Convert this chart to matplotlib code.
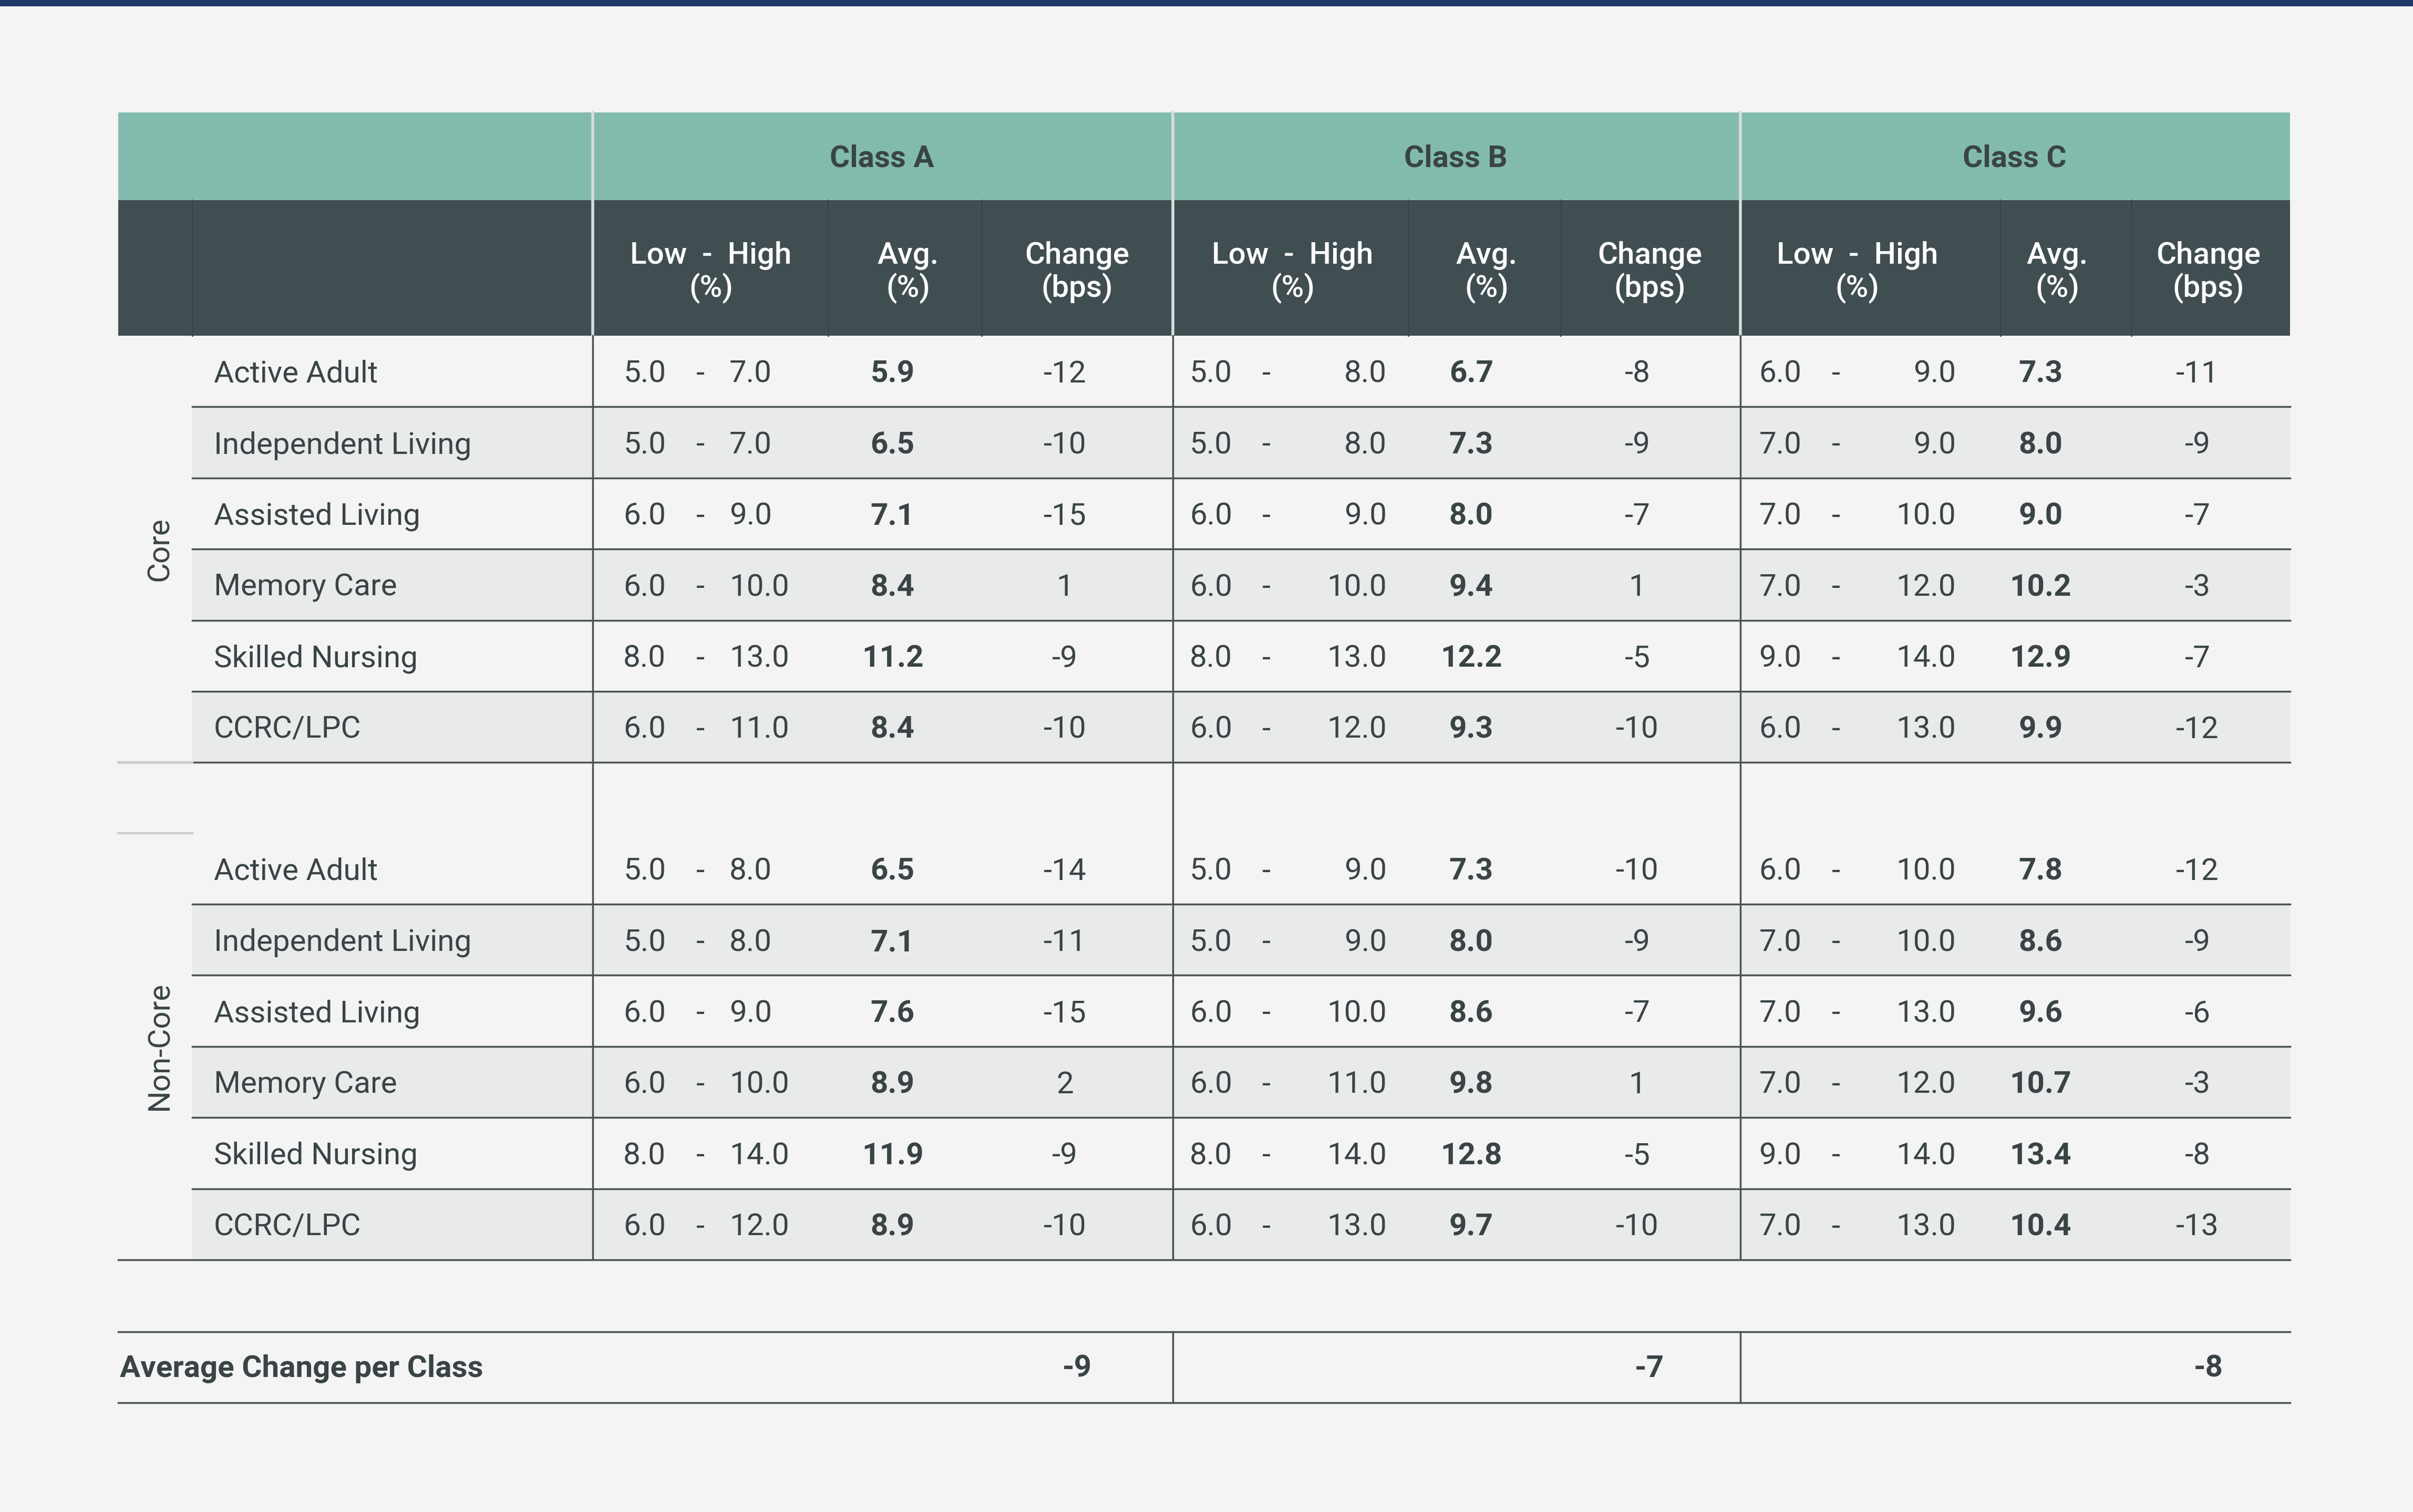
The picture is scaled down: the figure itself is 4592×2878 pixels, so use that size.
import matplotlib
matplotlib.use("Agg")
import matplotlib.pyplot as plt
from matplotlib.patches import Rectangle

classes = ["Class A", "Class B", "Class C"]
groups = ["Core", "Non-Core"]
property_types = ["Active Adult", "Independent Living", "Assisted Living", "Memory Care", "Skilled Nursing", "CCRC/LPC"]

core_low = [[5.0, 5.0, 6.0, 6.0, 8.0, 6.0], [5.0, 5.0, 6.0, 6.0, 8.0, 6.0], [6.0, 7.0, 7.0, 7.0, 9.0, 6.0]]
core_high = [[7.0, 7.0, 9.0, 10.0, 13.0, 11.0], [8.0, 8.0, 9.0, 10.0, 13.0, 12.0], [9.0, 9.0, 10.0, 12.0, 14.0, 13.0]]
core_avg = [[5.9, 6.5, 7.1, 8.4, 11.2, 8.4], [6.7, 7.3, 8.0, 9.4, 12.2, 9.3], [7.3, 8.0, 9.0, 10.2, 12.9, 9.9]]
core_chg = [[-12, -10, -15, 1, -9, -10], [-8, -9, -7, 1, -5, -10], [-11, -9, -7, -3, -7, -12]]

nc_low = [[5.0, 5.0, 6.0, 6.0, 8.0, 6.0], [5.0, 5.0, 6.0, 6.0, 8.0, 6.0], [6.0, 7.0, 7.0, 7.0, 9.0, 7.0]]
nc_high = [[8.0, 8.0, 9.0, 10.0, 14.0, 12.0], [9.0, 9.0, 10.0, 11.0, 14.0, 13.0], [10.0, 10.0, 13.0, 12.0, 14.0, 13.0]]
nc_avg = [[6.5, 7.1, 7.6, 8.9, 11.9, 8.9], [7.3, 8.0, 8.6, 9.8, 12.8, 9.7], [7.8, 8.6, 9.6, 10.7, 13.4, 10.4]]
nc_chg = [[-14, -11, -15, 2, -9, -10], [-10, -9, -7, 1, -5, -10], [-12, -9, -6, -3, -8, -13]]

avg_change = [-9, -7, -8]

W, H = 1568, 982
fig = plt.figure(figsize=(45.92, 28.78), dpi=100)
fig.patch.set_facecolor("#f3f4f3")
ax = fig.add_axes([0, 0, 1, 1])
ax.set_xlim(0, W); ax.set_ylim(H, 0); ax.axis("off")

FONT = "Roboto"
TXT = "#3a4447"
FS = 42
ax.add_patch(Rectangle((0, 0), W, 4, color="#1f3a68", lw=0))

# headers
ax.add_patch(Rectangle((77, 73), 1411, 57, color="#82bbad", lw=0))
ax.add_patch(Rectangle((77, 130), 1411, 88, color="#414e51", lw=0))
class_x = [573, 946, 1309]
for c, x in zip(classes, class_x):
    ax.text(x, 103, c, ha="center", va="center", fontsize=FS, fontweight="bold", color=TXT, family=FONT)
sub_x = [(462, 590, 700), (840, 966, 1072), (1207, 1337, 1435)]
for xs in sub_x:
    for x, t in zip(xs, ["Low  -  High\n(%)", "Avg.\n(%)", "Change\n(bps)"]):
        ax.text(x, 177, t, ha="center", va="center", fontsize=FS, fontweight="medium",
                color="white", family=FONT, linespacing=1.1)
for x in [385, 762, 1131]:
    ax.plot([x, x], [73, 218], color="#d8dcdb", lw=4)
for x in [125, 538, 638, 915, 1014, 1300, 1385]:
    ax.plot([x, x], [130, 218], color="#3a4648", lw=2)

rowh = 46.2
starts = {"Core": 218, "Non-Core": 541}
data = {"Core": (core_low, core_high, core_avg, core_chg), "Non-Core": (nc_low, nc_high, nc_avg, nc_chg)}
for g in groups:
    y0 = starts[g]
    low, high, avg, chg = data[g]
    for i, p in enumerate(property_types):
        top = y0 + i * rowh
        if i % 2 == 1:
            ax.add_patch(Rectangle((125, top), 1363, rowh, color="#e9eaea", lw=0))
        yc = top + rowh / 2 + 2
        ax.text(139, yc, p, ha="left", va="center", fontsize=FS, color=TXT, family=FONT)
        for k in range(3):
            lo, hi, av, ch = low[k][i], high[k][i], avg[k][i], chg[k][i]
            if k == 0:
                ax.text(405, yc, f"{lo:.1f}", ha="left", va="center", fontsize=FS, color=TXT, family=FONT)
                ax.text(455, yc, "-", ha="center", va="center", fontsize=FS, color=TXT, family=FONT)
                ax.text(474, yc, f"{hi:.1f}", ha="left", va="center", fontsize=FS, color=TXT, family=FONT)
            else:
                lx = 773 if k == 1 else 1143
                hx = 901 if k == 1 else 1271
                ax.text(lx, yc, f"{lo:.1f}", ha="left", va="center", fontsize=FS, color=TXT, family=FONT)
                ax.text(lx + 50, yc, "-", ha="center", va="center", fontsize=FS, color=TXT, family=FONT)
                ax.text(hx, yc, f"{hi:.1f}", ha="right", va="center", fontsize=FS, color=TXT, family=FONT)
            ax.text([580, 956, 1326][k], yc, f"{av:.1f}", ha="center", va="center", fontsize=FS, fontweight="bold", color=TXT, family=FONT)
            ax.text([692, 1064, 1428][k], yc, f"{ch:d}", ha="center", va="center", fontsize=FS, color=TXT, family=FONT)
        bottom = top + rowh
        xstart = 77 if i == 5 else 125
        ax.plot([xstart, 1488], [bottom, bottom], color="#4a5254", lw=2.5)
    ax.text(104, y0 + 3 * rowh, g, rotation=90, ha="center", va="center", fontsize=FS, color=TXT, family=FONT)

for x in [385, 762, 1131]:
    ax.plot([x, x], [218, 818], color="#4a5254", lw=2.5)
for x in [762, 1131]:
    ax.plot([x, x], [865, 911], color="#4a5254", lw=2.5)
for y in [495, 541]:
    ax.plot([77, 125], [y, y], color="#c8cccb", lw=3)

ax.plot([77, 1488], [865, 865], color="#4a5254", lw=2.5)
ax.plot([77, 1488], [911, 911], color="#4a5254", lw=2.5)
ax.text(78, 889, "Average Change per Class", ha="left", va="center", fontsize=FS, fontweight="bold", color=TXT, family=FONT)
for x, v in zip([700, 1072, 1435], avg_change):
    ax.text(x, 889, f"{v:d}", ha="center", va="center", fontsize=FS, fontweight="bold", color=TXT, family=FONT)

fig.savefig("out.png", dpi=100, facecolor=fig.get_facecolor())
